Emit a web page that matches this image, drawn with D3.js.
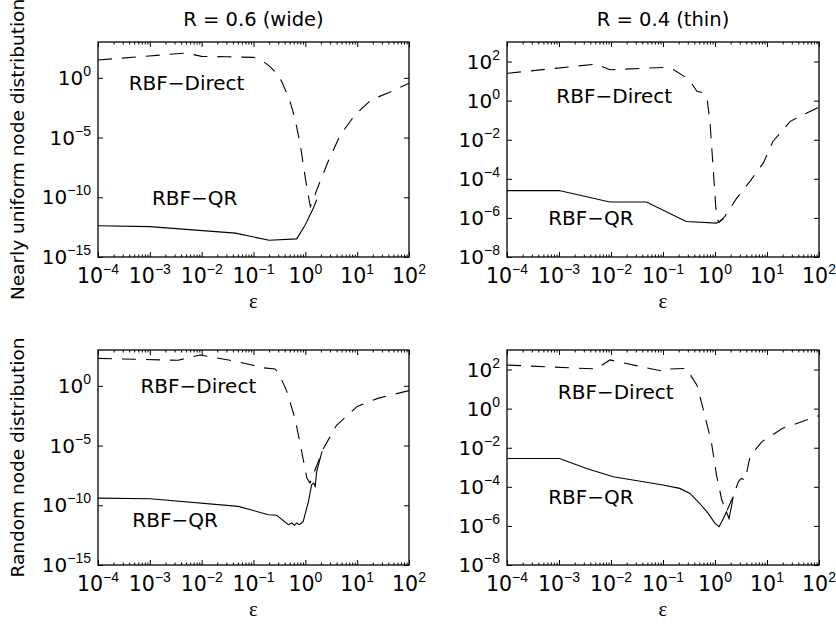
<!DOCTYPE html>
<html>
<head>
<meta charset="utf-8">
<script src="https://cdn.jsdelivr.net/npm/d3@7"></script>
<style>
body { margin: 0; background: #fff; }
text { font-family: "DejaVu Sans", sans-serif; fill: #000; }
</style>
</head>
<body>
<svg width="836" height="625"></svg>
<script>
// column titles / row labels
var colTitles = ["R = 0.6 (wide)", "R = 0.4 (thin)"];
var rowLabels = ["Nearly uniform node distribution", "Random node distribution"];

// tick exponents
var epsExp = [-4, -3, -2, -1, 0, 1, 2];
var errExpWide = [-15, -10, -5, 0];
var errExpThin = [-8, -6, -4, -2, 0, 2];

// nearly uniform, R = 0.6
var uniWideDirectEps = [1e-4, 5e-3, 1e-2, 3e-2, 0.1, 0.14, 0.2, 0.28, 0.35, 0.5, 0.63, 0.8, 1.0, 1.25, 1.8, 2.75, 4.7, 9.1, 19, 40, 100];
var uniWideDirectErr = [31, 120, 63, 58, 52, 32, 10, 2.5, 0.5, 1.3e-2, 4e-4, 2.5e-6, 4e-9, 1.6e-11, 1e-9, 1e-7, 1.6e-5, 8e-4, 1.5e-2, 5.6e-2, 0.36];
var uniWideQrEps = [1e-4, 1e-3, 4.5e-2, 0.2, 0.68, 1.0, 1.43, 1.66];
var uniWideQrErr = [4.1e-13, 3.5e-13, 1e-13, 2.5e-14, 3.3e-14, 5e-13, 1.26e-11, 6.3e-11];

// nearly uniform, R = 0.4
var uniThinDirectEps = [1e-4, 5.2e-3, 9.5e-3, 0.1, 0.16, 0.26, 0.35, 0.45, 0.59, 0.7, 0.8, 0.93, 1.07, 1.2, 1.55, 2.6, 4.7, 8.5, 13, 28, 50, 100];
var uniThinDirectErr = [25, 74, 38, 50, 38, 17, 8, 3, 2.5, 1.35, 8.7e-2, 2.4e-4, 1e-6, 5.9e-7, 1.2e-6, 1e-5, 7.4e-5, 6.5e-4, 8.1e-3, 8.7e-2, 0.19, 0.46];
var uniThinQrEps = [1e-4, 1e-3, 9.5e-3, 4.8e-2, 0.28, 1.07, 1.45];
var uniThinQrErr = [2.5e-5, 2.5e-5, 6.5e-6, 6.5e-6, 6.6e-7, 5.4e-7, 8.7e-7];

// random, R = 0.6
var rndWideDirectEps = [1e-4, 3.5e-3, 9.3e-3, 1.45e-2, 3.3e-2, 9.3e-2, 0.145, 0.26, 0.32, 0.44, 0.63, 0.85, 1.07, 1.23, 2.2, 4.0, 10, 25, 100];
var rndWideDirectErr = [200, 138, 380, 275, 145, 56, 33, 26, 8.1, 0.33, 2e-3, 3.2e-6, 1.9e-8, 7.2e-9, 5e-6, 5e-4, 1.9e-2, 8.9e-2, 0.4];
var rndWideQrEps = [1e-4, 1.02e-3, 5.1e-2, 0.195, 0.28, 0.47, 0.55, 0.62, 0.68, 0.76, 0.85, 0.91, 1.15, 1.32, 1.45, 1.55, 1.66, 2.1];
var rndWideQrErr = [4e-10, 3.5e-10, 8.1e-11, 1.6e-11, 1.45e-11, 2.4e-12, 3.3e-12, 2.1e-12, 3.3e-12, 2.4e-12, 3.3e-12, 4.5e-12, 2.1e-10, 5.2e-9, 7.2e-9, 3.8e-9, 6.8e-8, 3.2e-6];

// random, R = 0.4
var rndThinDirectEps = [1e-4, 5.2e-3, 9.5e-3, 7.6e-2, 0.11, 0.135, 0.28, 0.45, 0.59, 0.85, 1.07, 1.35, 1.66, 2.24, 2.8, 3.2, 3.8, 4.7, 7.9, 20, 100];
var rndThinDirectErr = [170, 107, 310, 95, 78, 107, 115, 16, 1.0, 2e-2, 4e-4, 2.1e-5, 5.2e-6, 3.2e-5, 1.8e-4, 2.7e-4, 2.2e-4, 3.5e-3, 2e-2, 9.8e-2, 0.44];
var rndThinQrEps = [1e-4, 1.02e-3, 3.4e-3, 1.1e-2, 0.1, 0.21, 0.33, 0.51, 0.74, 1.0, 1.2, 1.45, 1.66, 1.86, 2.1, 2.24];
var rndThinQrErr = [2.8e-3, 2.8e-3, 8.7e-4, 3.3e-4, 1.23e-4, 8.3e-5, 4.6e-5, 1.4e-5, 4.4e-6, 1.35e-6, 9.1e-7, 2.4e-6, 5.2e-6, 2.4e-6, 1.15e-5, 3.2e-5];

// label anchors (eps, err) for the two curve names in each panel
var directLabelAt = [[3.9e-4, 9.3e-2], [8.9e-4, 0.76], [6.6e-4, 0.25], [9.5e-4, 3.0]];
var qrLabelAt = [[1.1e-3, 2.1e-11], [6.2e-4, 4.5e-7], [4.6e-4, 1.55e-12], [6.2e-4, 1.3e-5]];

var svg = d3.select("svg");
var cols = [[98, 409], [507, 819]];
var rows = [[42, 257], [350, 565]];

var panels = [
  {r: 0, c: 0, direct: [uniWideDirectEps, uniWideDirectErr], qr: [uniWideQrEps, uniWideQrErr]},
  {r: 0, c: 1, direct: [uniThinDirectEps, uniThinDirectErr], qr: [uniThinQrEps, uniThinQrErr]},
  {r: 1, c: 0, direct: [rndWideDirectEps, rndWideDirectErr], qr: [rndWideQrEps, rndWideQrErr]},
  {r: 1, c: 1, direct: [rndThinDirectEps, rndThinDirectErr], qr: [rndThinQrEps, rndThinQrErr]}
];

function pow10Label(sel, e) {
  sel.text("10");
  sel.append("tspan")
    .attr("dy", -9)
    .style("font-family", "'Liberation Sans', Arial, sans-serif")
    .style("font-size", "14px")
    .text(e < 0 ? "\u2212" + (-e) : e);
}

function zip(a, b) {
  return a.map(function(v, i) { return [v, b[i]]; });
}

panels.forEach(function(p, idx) {
  var x0 = cols[p.c][0], x1 = cols[p.c][1];
  var y0 = rows[p.r][0], y1 = rows[p.r][1];
  var yExp = p.c == 0 ? errExpWide : errExpThin;
  var yMin = p.c == 0 ? 1e-15 : 1e-8;

  var x = d3.scaleLog().domain([1e-4, 1e2]).range([x0, x1]);
  var y = d3.scaleLog().domain([yMin, 1e3]).range([y1, y0]);

  var g = svg.append("g");

  var clipId = "clip" + idx;
  g.append("clipPath").attr("id", clipId)
    .append("rect").attr("x", x0).attr("y", y0).attr("width", x1 - x0).attr("height", y1 - y0);

  var majors = epsExp.map(function(e) { return Math.pow(10, e); });
  var minors = x.ticks().filter(function(t) {
    var m = t / Math.pow(10, Math.floor(Math.log10(t) + 1e-9));
    return Math.abs(m - 1) > 1e-6;
  });
  var yMajors = yExp.map(function(e) { return Math.pow(10, e); });

  // ticks, pointing inward on all four sides
  function addAxis(axis, tx, ty) {
    var a = g.append("g").attr("transform", "translate(" + tx + "," + ty + ")").call(axis);
    a.select(".domain").remove();
    a.selectAll("line").attr("stroke", "#000").attr("stroke-width", 1);
  }
  addAxis(d3.axisBottom(x).tickValues(majors).tickSize(-5).tickFormat(""), 0, y1);
  addAxis(d3.axisBottom(x).tickValues(minors).tickSize(-2.5).tickFormat(""), 0, y1);
  addAxis(d3.axisTop(x).tickValues(majors).tickSize(-5).tickFormat(""), 0, y0);
  addAxis(d3.axisTop(x).tickValues(minors).tickSize(-2.5).tickFormat(""), 0, y0);
  addAxis(d3.axisLeft(y).tickValues(yMajors).tickSize(-5).tickFormat(""), x0, 0);
  addAxis(d3.axisRight(y).tickValues(yMajors).tickSize(-5).tickFormat(""), x1, 0);

  g.append("rect")
    .attr("x", x0).attr("y", y0)
    .attr("width", x1 - x0).attr("height", y1 - y0)
    .attr("fill", "none").attr("stroke", "#000").attr("stroke-width", 1.3);

  // tick labels
  g.selectAll(".xl").data(epsExp).enter().append("text")
    .attr("class", "xl")
    .attr("x", function(e) { return x(Math.pow(10, e)); })
    .attr("y", y1 + 26)
    .attr("text-anchor", "middle")
    .style("font-size", "20.5px")
    .each(function(e) { pow10Label(d3.select(this), e); });

  g.selectAll(".yl").data(yExp).enter().append("text")
    .attr("class", "yl")
    .attr("x", x0 - 7)
    .attr("y", function(e) { return y(Math.pow(10, e)) + 7; })
    .attr("text-anchor", "end")
    .style("font-size", "20px")
    .each(function(e) { pow10Label(d3.select(this), e); });

  // x axis title
  g.append("text")
    .attr("x", (x0 + x1) / 2).attr("y", y1 + 51)
    .attr("text-anchor", "middle")
    .style("font-family", "'Liberation Serif', serif")
    .style("font-size", "21px")
    .text("\u03b5");

  var line = d3.line()
    .x(function(d) { return x(d[0]); })
    .y(function(d) { return y(d[1]); });

  var plot = g.append("g").attr("clip-path", "url(#" + clipId + ")");
  plot.append("path")
    .attr("d", line(zip(p.direct[0], p.direct[1])))
    .attr("fill", "none").attr("stroke", "#000").attr("stroke-width", 1.1)
    .attr("stroke-dasharray", "14,10");
  plot.append("path")
    .attr("d", line(zip(p.qr[0], p.qr[1])))
    .attr("fill", "none").attr("stroke", "#000").attr("stroke-width", 1.1);

  g.append("text")
    .attr("x", x(directLabelAt[idx][0])).attr("y", y(directLabelAt[idx][1]))
    .style("font-size", "20px")
    .text("RBF\u2212Direct");
  g.append("text")
    .attr("x", x(qrLabelAt[idx][0])).attr("y", y(qrLabelAt[idx][1]))
    .style("font-size", "20px")
    .text("RBF\u2212QR");
});

// column titles
colTitles.forEach(function(t, c) {
  svg.append("text")
    .attr("x", (cols[c][0] + cols[c][1]) / 2).attr("y", 26)
    .attr("text-anchor", "middle")
    .style("font-size", "19.5px")
    .text(t);
});

// row labels
rowLabels.forEach(function(t, r) {
  var cy = (rows[r][0] + rows[r][1]) / 2;
  svg.append("text")
    .attr("transform", "translate(24," + cy + ") rotate(-90)")
    .attr("text-anchor", "middle")
    .style("font-size", "18.5px")
    .text(t);
});
</script>
</body>
</html>
